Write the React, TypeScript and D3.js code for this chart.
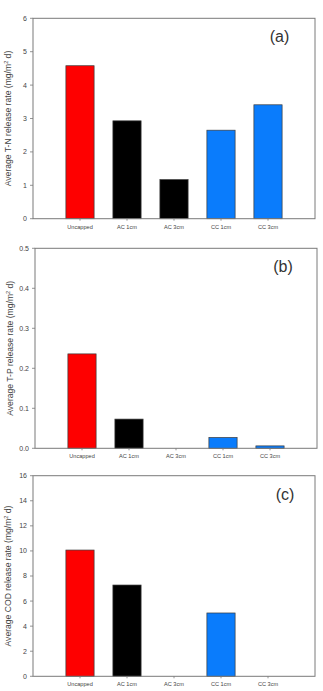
import React from "react";
import * as d3 from "d3";

// Treatment groups shown on every panel
const categories = ["Uncapped", "AC 1cm", "AC 3cm", "CC 1cm", "CC 3cm"];
const barColors = ["#fe0000", "#000000", "#000000", "#0a7cfc", "#0a7cfc"];

// Average release rates (mg/m² d)
const tnValues = [4.58, 2.93, 1.17, 2.65, 3.41];
const tpValues = [0.236, 0.073, 0, 0.027, 0.006];
const codValues = [10.07, 7.28, 0, 5.05, 0];

// Axis ticks
const tnTicks = [0, 1, 2, 3, 4, 5, 6];
const tpTicks = [0, 0.1, 0.2, 0.3, 0.4, 0.5];
const codTicks = [0, 2, 4, 6, 8, 10, 12, 14, 16];

const panelLabels = ["(a)", "(b)", "(c)"];
const titlePrefixes = [
  "Average T-N release rate (mg/m",
  "Average T-P release rate (mg/m",
  "Average COD release rate (mg/m",
];

const FONT = "Liberation Sans, Arial, sans-serif";

type PanelProps = {
  values: number[];
  ticks: number[];
  fmt: (v: number) => string;
  left: number;
  right: number;
  top: number;
  bottom: number;
  label: string;
  labelX: number;
  labelY: number;
  title: string;
};

function Panel(p: PanelProps) {
  const x = d3.scaleLinear().domain([0, categories.length + 1]).range([p.left, p.right]);
  const y = d3
    .scaleLinear()
    .domain([0, p.ticks[p.ticks.length - 1]])
    .range([p.bottom, p.top]);
  const bw = 0.6 * (x(1) - x(0));
  const midY = (p.top + p.bottom) / 2;
  return (
    <g>
      {p.values.map((v, i) =>
        v > 0 ? (
          <rect
            key={i}
            x={x(i + 1) - bw / 2}
            y={y(v)}
            width={bw}
            height={y(0) - y(v)}
            fill={barColors[i]}
            stroke="#3a3a3a"
            strokeWidth={0.7}
          />
        ) : null
      )}
      <rect
        x={p.left}
        y={p.top}
        width={p.right - p.left}
        height={p.bottom - p.top}
        fill="none"
        stroke="#7a7a7a"
        strokeWidth={1}
      />
      {p.ticks.map((t) => (
        <g key={t}>
          <line x1={p.left - 3} x2={p.left} y1={y(t)} y2={y(t)} stroke="#7a7a7a" strokeWidth={0.8} />
          <text
            x={p.left - 6}
            y={y(t)}
            dy="0.35em"
            textAnchor="end"
            fontSize={7}
            fill="#444"
            fontFamily={FONT}
          >
            {p.fmt(t)}
          </text>
        </g>
      ))}
      {categories.map((c, i) => (
        <g key={c}>
          <line x1={x(i + 1)} x2={x(i + 1)} y1={p.bottom} y2={p.bottom + 2} stroke="#7a7a7a" strokeWidth={0.8} />
          <text
            x={x(i + 1)}
            y={p.bottom + 10}
            textAnchor="middle"
            fontSize={5.6}
            fill="#444"
            fontFamily={FONT}
          >
            {c}
          </text>
        </g>
      ))}
      <text
        transform={`translate(${p.left - 22},${midY}) rotate(-90)`}
        textAnchor="middle"
        fontSize={8.6}
        fill="#444"
        fontFamily={FONT}
      >
        {p.title}
        <tspan fontSize={5.5} dy={-3.5}>2</tspan>
        <tspan dy={3.5}> d)</tspan>
      </text>
      <text
        x={p.labelX}
        y={p.labelY}
        dy="0.35em"
        textAnchor="middle"
        fontSize={16}
        fill="#333"
        fontFamily={FONT}
      >
        {p.label}
      </text>
    </g>
  );
}

export default function App() {
  const f0 = (v: number) => d3.format("d")(v);
  const f1 = (v: number) => d3.format(".1f")(v);
  return (
    <svg
      width={323}
      height={691}
      style={{ position: "absolute", left: 0, top: 0, background: "#fff" }}
    >
      <Panel
        values={tnValues}
        ticks={tnTicks}
        fmt={f0}
        left={33}
        right={315}
        top={18.3}
        bottom={218.7}
        label={panelLabels[0]}
        labelX={279.5}
        labelY={36}
        title={titlePrefixes[0]}
      />
      <Panel
        values={tpValues}
        ticks={tpTicks}
        fmt={f1}
        left={35}
        right={317}
        top={248.3}
        bottom={448.3}
        label={panelLabels[1]}
        labelX={283}
        labelY={266}
        title={titlePrefixes[1]}
      />
      <Panel
        values={codValues}
        ticks={codTicks}
        fmt={f0}
        left={33}
        right={315}
        top={475.7}
        bottom={676.3}
        label={panelLabels[2]}
        labelX={285}
        labelY={494}
        title={titlePrefixes[2]}
      />
    </svg>
  );
}
